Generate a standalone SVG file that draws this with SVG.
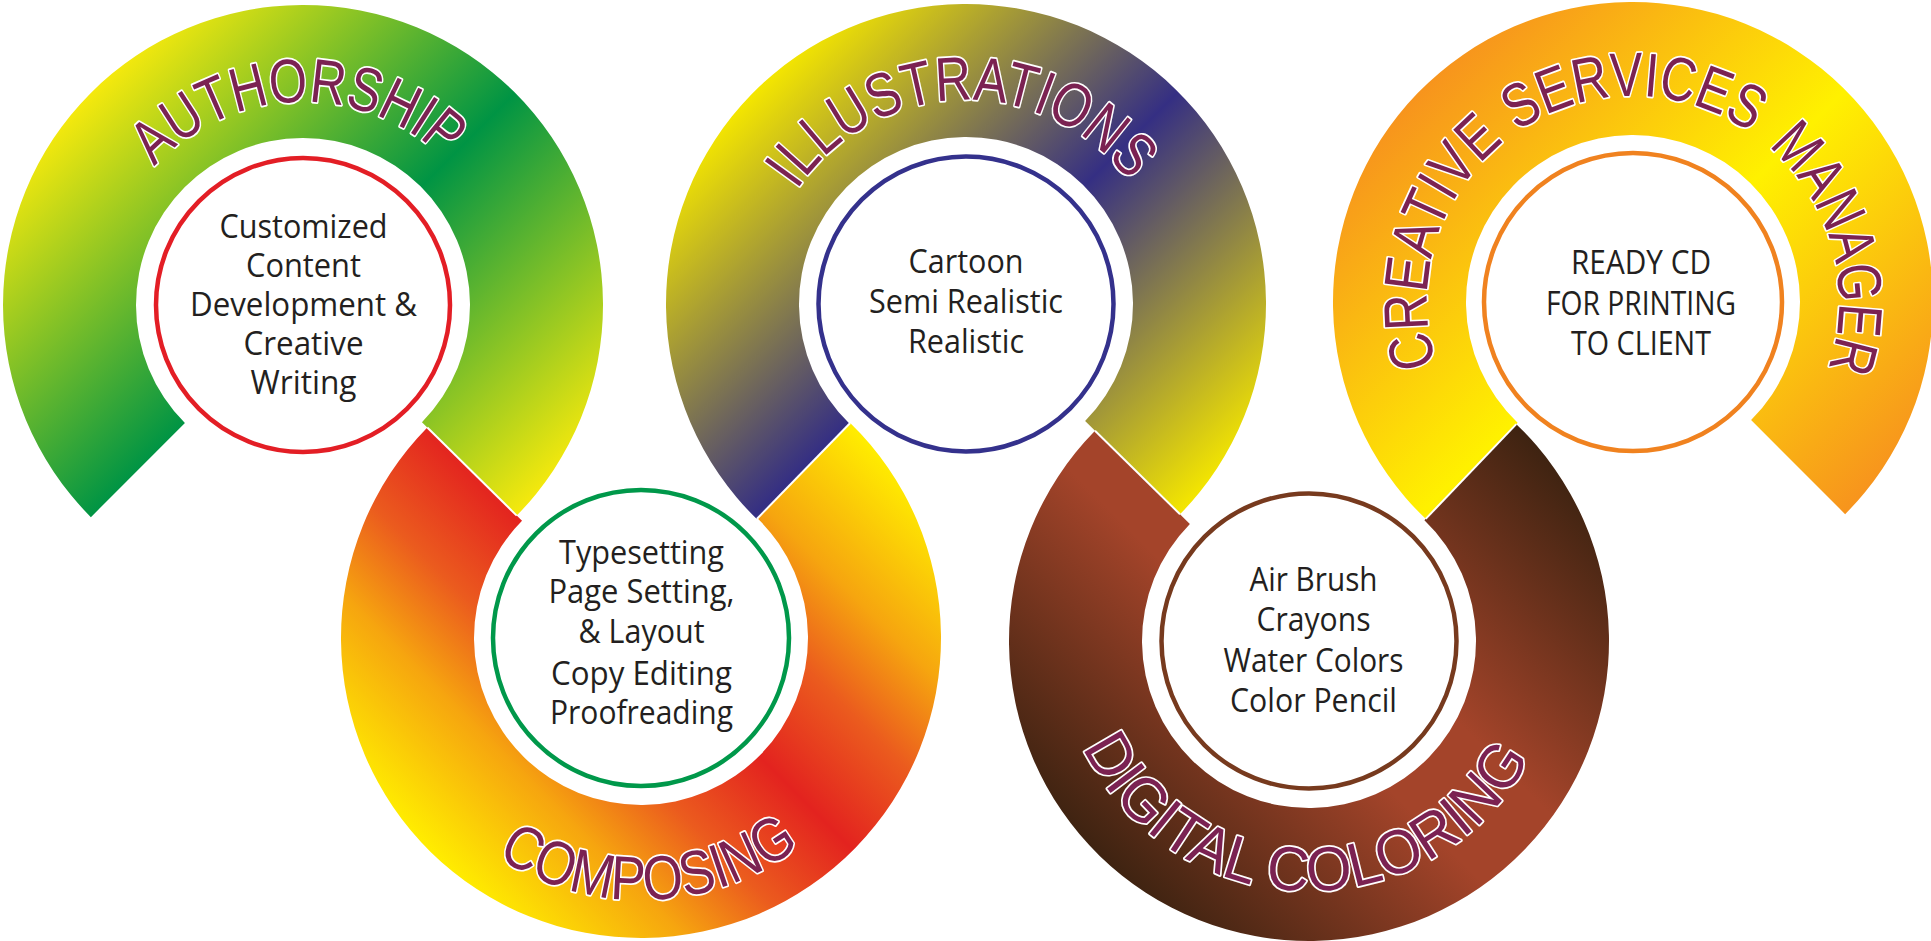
<svg xmlns="http://www.w3.org/2000/svg" width="1931" height="941" viewBox="0 0 1931 941">
<defs>
  <linearGradient id="g1" gradientUnits="userSpaceOnUse" x1="91" y1="93" x2="515" y2="517">
    <stop offset="0" stop-color="#f5e90d"/><stop offset="0.5" stop-color="#009444"/><stop offset="1" stop-color="#f5e90d"/>
  </linearGradient>
  <linearGradient id="g2" gradientUnits="userSpaceOnUse" x1="429" y1="850" x2="853" y2="426">
    <stop offset="0" stop-color="#ffed00"/><stop offset="0.2" stop-color="#f6a50f"/><stop offset="0.34" stop-color="#eb5b1e"/><stop offset="0.5" stop-color="#e3231f"/><stop offset="0.66" stop-color="#eb5b1e"/><stop offset="0.8" stop-color="#f6a50f"/><stop offset="1" stop-color="#ffed00"/>
  </linearGradient>
  <linearGradient id="g3" gradientUnits="userSpaceOnUse" x1="754" y1="92" x2="1178" y2="516">
    <stop offset="0" stop-color="#f4e600"/><stop offset="0.5" stop-color="#352f83"/><stop offset="1" stop-color="#f4e600"/>
  </linearGradient>
  <linearGradient id="g4" gradientUnits="userSpaceOnUse" x1="1097" y1="853" x2="1521" y2="429">
    <stop offset="0" stop-color="#3e2311"/><stop offset="0.42" stop-color="#a4442a"/><stop offset="0.58" stop-color="#a4442a"/><stop offset="1" stop-color="#3e2311"/>
  </linearGradient>
  <linearGradient id="g5" gradientUnits="userSpaceOnUse" x1="1421" y1="90" x2="1845" y2="514">
    <stop offset="0" stop-color="#f7941d"/><stop offset="0.5" stop-color="#fff100"/><stop offset="1" stop-color="#f7941d"/>
  </linearGradient>
  <path id="tp1" d="M 154.54 166.55 A 203 203 0 0 1 486.98 219.21"/>
  <path id="tp2" d="M 497.16 856.98 A 262 262 0 0 0 867.90 769"/>
  <path id="tp3" d="M 796.88 189.93 A 204 204 0 0 1 1157.70 234.23"/>
  <path id="tp4" d="M 1082.79 747.45 A 250 250 0 0 0 1555.20 684.41"/>
  <path id="tp5" d="M 1436.75 364.63 A 206 206 0 1 1 1790.80 434.41"/>
</defs>
<style>
  .disc{fill:#ffffff;stroke-width:4.5}
  .title{font-family:"Liberation Sans",Arial,sans-serif;font-size:62px;fill:#7b2252;stroke:#ffffff;stroke-width:3.5;paint-order:stroke;stroke-linejoin:round}
  .body{font-family:"Open Sans","Noto Sans",sans-serif;font-size:32px;fill:#231f20;text-anchor:middle}
  .cut{stroke:#ffffff;stroke-width:2;fill:none}
</style>
<rect width="1931" height="941" fill="#ffffff"/>

<g id="node-authorship">
  <path fill="url(#g1)" d="M 90.87 517.13 A 300 300 0 1 1 516.70 515.56 L 421.96 422.21 A 167 167 0 1 0 184.91 423.09 Z"/>
  <circle class="disc" cx="303" cy="305" r="147" stroke="#e31e25"/>
  <text class="title"><textPath href="#tp1" textLength="322" lengthAdjust="spacingAndGlyphs">AUTHORSHIP</textPath></text>
  <text class="body" x="303.5" y="237.7" textLength="168" lengthAdjust="spacingAndGlyphs">Customized</text>
  <text class="body" x="303.5" y="276.7" textLength="115" lengthAdjust="spacingAndGlyphs">Content</text>
  <text class="body" x="303.5" y="316" textLength="227" lengthAdjust="spacingAndGlyphs">Development &amp;</text>
  <text class="body" x="303.5" y="355.3" textLength="120" lengthAdjust="spacingAndGlyphs">Creative</text>
  <text class="body" x="303.5" y="394.3" textLength="106" lengthAdjust="spacingAndGlyphs">Writing</text>
</g>

<g id="node-composing">
  <path fill="url(#g2)" d="M 850.21 422.99 A 300 300 0 1 1 427.30 427.44 L 522.04 520.79 A 167 167 0 1 0 757.46 518.31 Z"/>
  <circle class="disc" cx="641" cy="638" r="148" stroke="#00984a"/>
  <text class="title"><textPath href="#tp2" textLength="323" lengthAdjust="spacingAndGlyphs">COMPOSING</textPath></text>
  <text class="body" x="641.5" y="564.3" textLength="165" lengthAdjust="spacingAndGlyphs">Typesetting</text>
  <text class="body" x="641.5" y="603.3" textLength="186" lengthAdjust="spacingAndGlyphs">Page Setting,</text>
  <text class="body" x="641.5" y="643.3" textLength="126" lengthAdjust="spacingAndGlyphs">&amp; Layout</text>
  <text class="body" x="641.5" y="685" textLength="181" lengthAdjust="spacingAndGlyphs">Copy Editing</text>
  <text class="body" x="641.5" y="724" textLength="183" lengthAdjust="spacingAndGlyphs">Proofreading</text>
</g>

<g id="node-illustrations">
  <path fill="url(#g3)" d="M 756.79 519.01 A 300 300 0 1 1 1179.98 514.27 L 1085.11 421.05 A 167 167 0 1 0 849.54 423.69 Z"/>
  <circle class="disc" cx="966" cy="304" r="147.5" stroke="#34318c"/>
  <text class="title"><textPath href="#tp3" textLength="388" lengthAdjust="spacingAndGlyphs">ILLUSTRATIONS</textPath></text>
  <text class="body" x="966" y="273" textLength="115" lengthAdjust="spacingAndGlyphs">Cartoon</text>
  <text class="body" x="966" y="313.3" textLength="194" lengthAdjust="spacingAndGlyphs">Semi Realistic</text>
  <text class="body" x="966" y="353" textLength="116" lengthAdjust="spacingAndGlyphs">Realistic</text>
</g>

<g id="node-digital-coloring">
  <path fill="url(#g4)" d="M 1516.30 424.14 A 300 300 0 1 1 1095.02 430.73 L 1189.89 523.95 A 167 167 0 1 0 1424.40 520.28 Z"/>
  <circle class="disc" cx="1309" cy="641" r="147.5" stroke="#773a1e"/>
  <text class="title"><textPath href="#tp4" textLength="553" lengthAdjust="spacingAndGlyphs">DIGITAL COLORING</textPath></text>
  <text class="body" x="1313.5" y="591" textLength="128" lengthAdjust="spacingAndGlyphs">Air Brush</text>
  <text class="body" x="1313.5" y="630.7" textLength="114" lengthAdjust="spacingAndGlyphs">Crayons</text>
  <text class="body" x="1313.5" y="671.7" textLength="180" lengthAdjust="spacingAndGlyphs">Water Colors</text>
  <text class="body" x="1313.5" y="712.3" textLength="167" lengthAdjust="spacingAndGlyphs">Color Pencil</text>
</g>

<g id="node-creative-services-manager">
  <path fill="url(#g5)" d="M 1425.70 518.86 A 300 300 0 1 1 1845.13 514.13 L 1751.09 420.09 A 167 167 0 1 0 1517.60 422.72 Z"/>
  <circle class="disc" cx="1633" cy="302" r="149" stroke="#f0821f"/>
  <text class="title"><textPath href="#tp5" startOffset="0" textLength="248" lengthAdjust="spacingAndGlyphs">CREATIVE</textPath></text>
  <text class="title"><textPath href="#tp5" startOffset="264" textLength="248" lengthAdjust="spacingAndGlyphs">SERVICES</textPath></text>
  <text class="title"><textPath href="#tp5" startOffset="534" textLength="244" lengthAdjust="spacingAndGlyphs">MANAGER</textPath></text>
  <text class="body" x="1641" y="274.3" textLength="140" lengthAdjust="spacingAndGlyphs">READY CD</text>
  <text class="body" x="1641" y="314.7" textLength="190" lengthAdjust="spacingAndGlyphs">FOR PRINTING</text>
  <text class="body" x="1641" y="355.3" textLength="140" lengthAdjust="spacingAndGlyphs">TO CLIENT</text>
</g>

<g id="connectors">
  <line class="cut" x1="427.3" y1="427.5" x2="516.7" y2="515.6"/>
  <line class="cut" x1="756.8" y1="519.0" x2="850.2" y2="423.0"/>
  <line class="cut" x1="1095.0" y1="430.8" x2="1180.0" y2="514.2"/>
  <line class="cut" x1="1425.7" y1="518.9" x2="1516.3" y2="424.1"/>
</g>
</svg>
